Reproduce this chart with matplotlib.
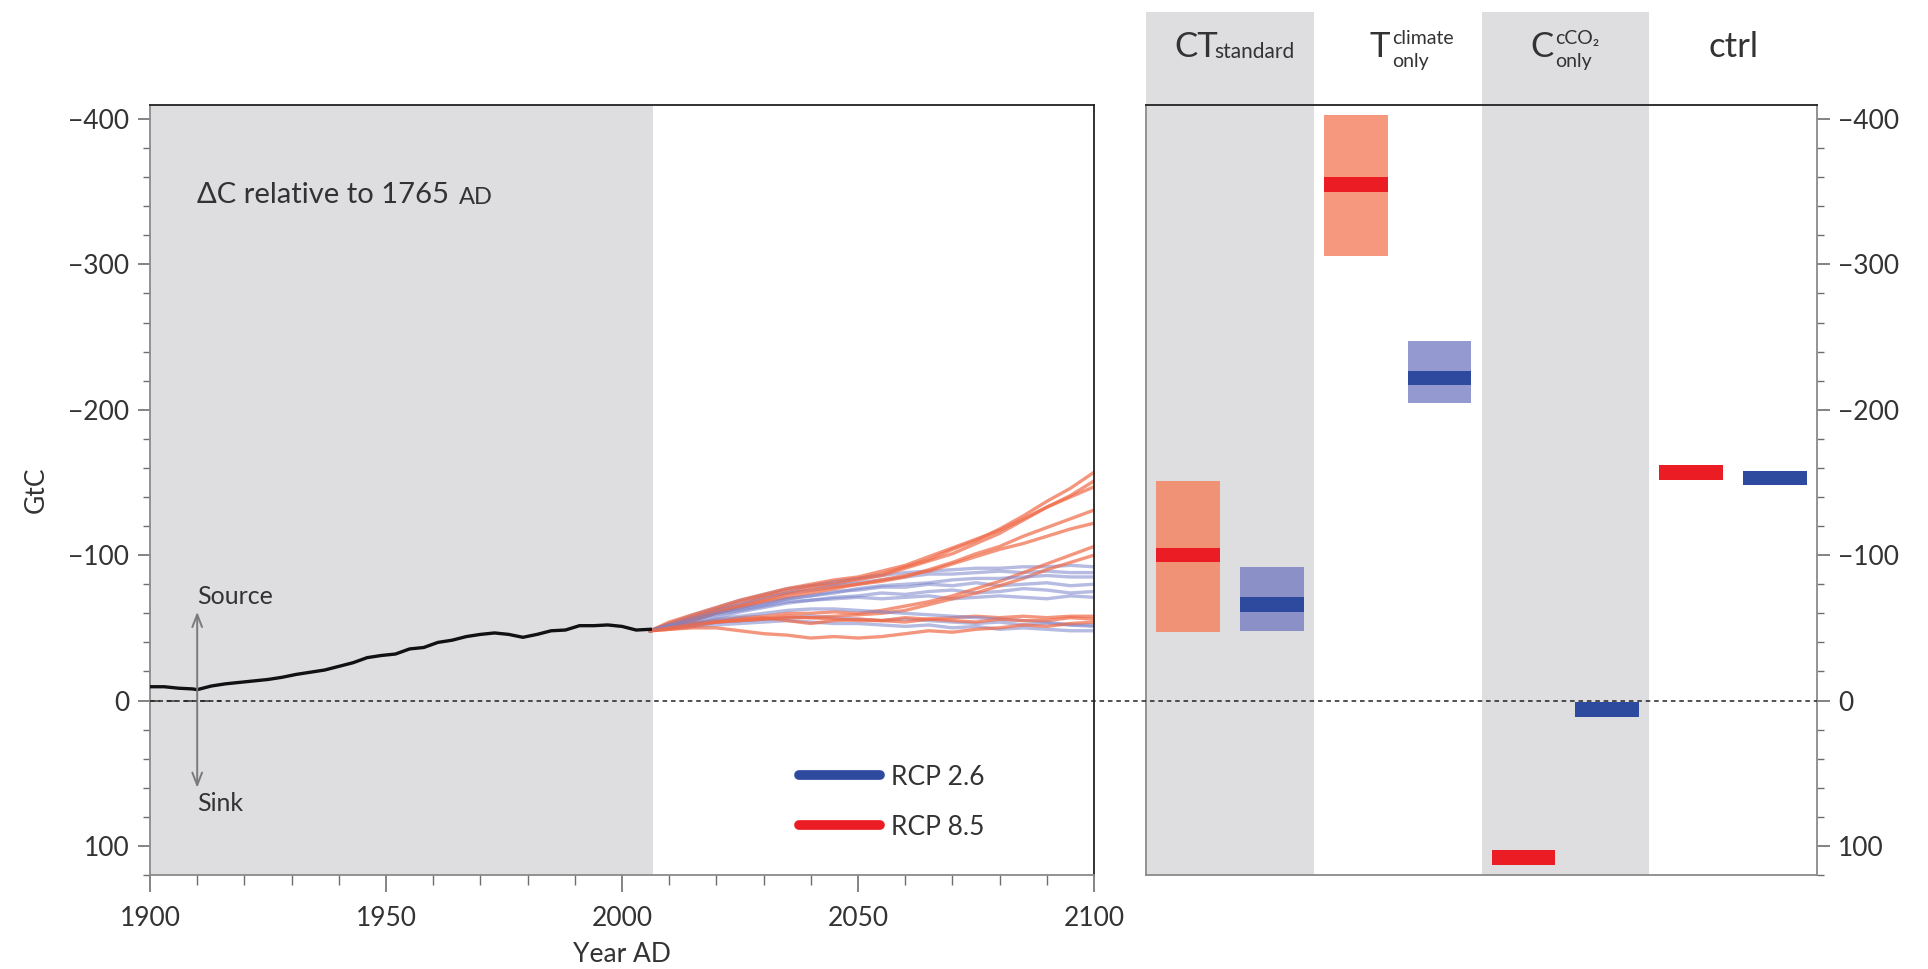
import matplotlib
matplotlib.use("Agg")
import matplotlib.pyplot as plt
from matplotlib.patches import Rectangle
from matplotlib.lines import Line2D
from matplotlib.ticker import MultipleLocator, FuncFormatter
import matplotlib.transforms as mtransforms

plt.rcParams['font.family'] = ['Lato', 'DejaVu Sans']

# Historical land carbon change (negative = source), GtC relative to 1765
hist_years = [1900, 1903, 1906, 1909, 1910, 1913, 1916, 1919, 1922, 1925, 1928, 1931,
              1934, 1937, 1940, 1943, 1946, 1949, 1952, 1955, 1958, 1961, 1964, 1967,
              1970, 1973, 1976, 1979, 1982, 1985, 1988, 1991, 1994, 1997, 2000, 2003, 2006]
hist_vals = [-9.5, -9.5, -8.5, -8, -7.5, -10, -11.5, -12.5, -13.5, -14.5, -16, -18,
             -19.5, -21, -23.5, -26, -29.5, -31, -32, -35.5, -36.5, -40, -41.5, -44,
             -45.5, -46.5, -45.5, -43.5, -45.5, -48, -48.5, -51.5, -51.5, -52, -51, -48.5, -49]

# Scenario ensemble members 2006-2100
proj_years = [2006, 2010, 2015, 2020, 2025, 2030, 2035, 2040, 2045, 2050,
              2055, 2060, 2065, 2070, 2075, 2080, 2085, 2090, 2095, 2100]

rcp85_runs = [
    [-48, -53, -58, -63, -68, -72, -76, -79, -81, -84, -87, -92, -97, -104, -110, -118, -127, -137, -146, -157],
    [-48, -52, -57, -62, -66, -71, -74, -78, -80, -83, -86, -91, -96, -101, -108, -115, -124, -133, -141, -151],
    [-48, -54, -59, -64, -69, -73, -77, -80, -83, -85, -89, -93, -99, -105, -111, -117, -125, -133, -140, -147],
    [-48, -51, -55, -60, -64, -68, -71, -74, -77, -80, -82, -85, -90, -95, -101, -106, -113, -119, -125, -131],
    [-48, -52, -56, -61, -65, -69, -73, -76, -78, -80, -83, -86, -89, -94, -99, -104, -108, -113, -118, -122],
    [-48, -50, -53, -55, -57, -58, -60, -60, -61, -60, -62, -65, -68, -72, -77, -82, -88, -94, -100, -106],
    [-48, -49, -51, -54, -55, -56, -57, -57, -58, -59, -60, -62, -66, -70, -74, -79, -84, -90, -95, -100],
    [-48, -50, -53, -54, -56, -57, -55, -53, -55, -56, -55, -54, -56, -57, -58, -57, -58, -57, -58, -58],
    [-48, -49, -50, -50, -48, -46, -45, -43, -44, -43, -44, -46, -48, -47, -49, -50, -52, -51, -53, -54],
    [-48, -50, -52, -54, -55, -56, -58, -57, -56, -55, -55, -57, -56, -55, -54, -56, -55, -55, -57, -56],
]
rcp26_runs = [
    [-48, -53, -59, -64, -69, -73, -77, -79, -82, -84, -86, -88, -89, -90, -91, -91, -92, -92, -93, -92],
    [-48, -52, -57, -62, -66, -70, -74, -76, -79, -81, -83, -85, -87, -87, -88, -89, -88, -89, -88, -88],
    [-48, -51, -55, -60, -64, -67, -70, -72, -75, -76, -78, -78, -80, -79, -81, -79, -80, -81, -79, -80],
    [-48, -52, -56, -59, -62, -65, -68, -69, -71, -72, -74, -73, -75, -76, -74, -75, -77, -76, -74, -75],
    [-48, -51, -54, -57, -61, -64, -67, -69, -70, -71, -70, -71, -72, -70, -71, -72, -71, -70, -72, -71],
    [-48, -50, -52, -54, -55, -56, -57, -58, -57, -56, -55, -56, -55, -54, -53, -54, -52, -53, -52, -52],
    [-48, -50, -51, -52, -53, -54, -55, -54, -53, -53, -52, -51, -52, -50, -51, -49, -50, -49, -48, -48],
    [-48, -51, -53, -56, -58, -60, -62, -63, -63, -62, -61, -60, -59, -58, -57, -56, -55, -54, -52, -51],
    [-48, -52, -56, -60, -63, -66, -70, -72, -74, -77, -79, -80, -81, -83, -84, -84, -85, -86, -85, -85],
]

# Factorial experiments: median and ensemble range (GtC)
experiments = ['CT_standard', 'T_climate_only', 'C_cCO2_only', 'ctrl']
rcp85_median = [-100, -355, 108, -157]
rcp85_low = [-151, -403, None, None]
rcp85_high = [-47, -306, None, None]
rcp26_median = [-66, -222, 6, -153]
rcp26_low = [-92, -247, None, None]
rcp26_high = [-48, -205, None, None]

GRAY_BG = '#dedee1'
TXT = '#333333'
AX_GRAY = '#6e6e6e'
RED_LINE = '#f06a48'
BLUE_LINE = '#7a83cb'
RED_MED = '#ec1c24'
BLUE_MED = '#2e4a9f'
RED_RANGE = '#f47f5c'
BLUE_RANGE = '#7078bf'

W, H = 1928, 969
fig = plt.figure(figsize=(W / 100, H / 100), dpi=100)


def fx(px):
    return px / W


def fy(py):
    return 1 - py / H


ax1 = fig.add_axes([fx(150), fy(875), fx(1094) - fx(150), fy(104.5) - fy(875)])
ax2 = fig.add_axes([fx(1146), fy(875), fx(1817) - fx(1146), fy(104.5) - fy(875)])

minus_fmt = FuncFormatter(lambda v, p: f"{int(v)}".replace('-', '\u2212'))

for ax in (ax1, ax2):
    ax.set_ylim(120, -410)
    ax.yaxis.set_major_locator(MultipleLocator(100))
    ax.yaxis.set_minor_locator(MultipleLocator(20))
    ax.yaxis.set_major_formatter(minus_fmt)
    ax.tick_params(axis='both', which='major', direction='out', length=9, width=1.2,
                   color=AX_GRAY, labelsize=19, labelcolor=TXT, pad=6)
    ax.tick_params(axis='both', which='minor', direction='out', length=5, width=1,
                   color=AX_GRAY)
    for s in ('left', 'bottom', 'right'):
        ax.spines[s].set_color('#8a8a8a')
        ax.spines[s].set_linewidth(1.3)
    ax.spines['top'].set_color('#222222')
    ax.spines['top'].set_linewidth(1.3)

# ---- left panel: time series ----
ax1.set_xlim(1900, 2100)
ax1.spines['right'].set_color('#222222')
ax1.xaxis.set_major_locator(MultipleLocator(50))
ax1.xaxis.set_minor_locator(MultipleLocator(10))
ax1.tick_params(axis='x', which='major', length=12, pad=10)
ax1.tick_params(axis='x', which='minor', length=7)
ax1.axvspan(1900, 2006.5, color=GRAY_BG, lw=0, zorder=0)

for i in range(max(len(rcp85_runs), len(rcp26_runs))):
    if i < len(rcp85_runs):
        ax1.plot(proj_years, rcp85_runs[i], color=RED_LINE, lw=2.4, alpha=0.7, zorder=2)
    if i < len(rcp26_runs):
        ax1.plot(proj_years, rcp26_runs[i], color=BLUE_LINE, lw=2.4, alpha=0.55, zorder=2)

ax1.plot(hist_years, hist_vals, color='#111111', lw=2.4, zorder=3)

# short reference dash at zero
ax1.plot([1900, 1915], [0, 0], color='#444444', lw=1.2, dashes=(6, 4), zorder=2)

ax1.annotate('', xy=(1910, -61), xytext=(1910, 60),
             arrowprops=dict(arrowstyle='<->,head_length=0.9,head_width=0.35',
                             color='#7a7a7a', lw=1.4, shrinkA=0, shrinkB=0), zorder=3)
ax1.text(1910, -64, 'Source', fontsize=18, color=TXT, ha='left', va='bottom')
ax1.text(1910, 63, 'Sink', fontsize=18, color=TXT, ha='left', va='top')

t_dc = ax1.text(0.05, 0.872, '\u0394C relative to 1765', transform=ax1.transAxes,
                fontsize=21, color=TXT, ha='left', va='baseline')
ax1.annotate('AD', xy=(1, 0), xycoords=t_dc, xytext=(7, 0), textcoords='offset points',
             fontsize=17, color=TXT, ha='left', va='bottom')

ax1.set_ylabel('GtC', fontsize=19, color=TXT, labelpad=14)
ax1.set_xlabel('Year AD', fontsize=19, color=TXT, labelpad=8)

leg_handles = [Line2D([0], [0], color=BLUE_MED, lw=7, solid_capstyle='round'),
               Line2D([0], [0], color=RED_MED, lw=7, solid_capstyle='round')]
ax1.legend(leg_handles, ['RCP 2.6', 'RCP 8.5'], loc='lower left',
           bbox_to_anchor=(0.662, 0.015), frameon=False, fontsize=19,
           handlelength=3.1, handletextpad=0.4, labelspacing=0.95,
           labelcolor=TXT)

# ---- right panel: factorial experiments ----
ax2.set_xlim(0, 4)
ax2.set_xticks([])
ax2.yaxis.tick_right()
ax2.tick_params(axis='y', which='both', left=False, right=True)

for col in (0, 2):
    ax2.add_patch(Rectangle((col, 0), 1, 1.12, transform=mtransforms.blended_transform_factory(
        ax2.transData, ax2.transAxes), color=GRAY_BG, lw=0, clip_on=False, zorder=0))

bw = 0.38
med_h = 10
for i in range(len(experiments)):
    xr = i + 0.25
    xb = i + 0.75
    if rcp85_low[i] is not None:
        ax2.bar(xr, rcp85_high[i] - rcp85_low[i], bottom=rcp85_low[i], width=bw,
                color=RED_RANGE, alpha=0.8, lw=0, zorder=2)
    if rcp26_low[i] is not None:
        ax2.bar(xb, rcp26_high[i] - rcp26_low[i], bottom=rcp26_low[i], width=bw,
                color=BLUE_RANGE, alpha=0.75, lw=0, zorder=2)
    ax2.bar(xr, med_h, bottom=rcp85_median[i] - med_h / 2, width=bw,
            color=RED_MED, lw=0, zorder=3)
    ax2.bar(xb, med_h, bottom=rcp26_median[i] - med_h / 2, width=bw,
            color=BLUE_MED, lw=0, zorder=3)

# zero line running across both panels
zero_tr = mtransforms.blended_transform_factory(fig.transFigure, ax1.transData)
fig.add_artist(Line2D([fx(150), fx(1817)], [0, 0], transform=zero_tr,
                      color='#222222', lw=1.1, dashes=(3, 2.5), zorder=5))

# column headings
hy = fy(47)
fig.text(fx(1174), hy, 'CT', fontsize=25, color=TXT, ha='left', va='center')
fig.text(fx(1214), fy(52), 'standard', fontsize=15, color=TXT, ha='left', va='center')
fig.text(fx(1369), hy, 'T', fontsize=25, color=TXT, ha='left', va='center')
fig.text(fx(1392), fy(38), 'climate', fontsize=14, color=TXT, ha='left', va='center')
fig.text(fx(1392), fy(62), 'only', fontsize=14, color=TXT, ha='left', va='center')
fig.text(fx(1530), hy, 'C', fontsize=25, color=TXT, ha='left', va='center')
fig.text(fx(1555), fy(38), 'cCO\u2082', fontsize=14, color=TXT, ha='left', va='center')
fig.text(fx(1555), fy(62), 'only', fontsize=14, color=TXT, ha='left', va='center')
fig.text(fx(1733), hy, 'ctrl', fontsize=25, color=TXT, ha='center', va='center')

fig.savefig('out.png', dpi=100, facecolor='white')
